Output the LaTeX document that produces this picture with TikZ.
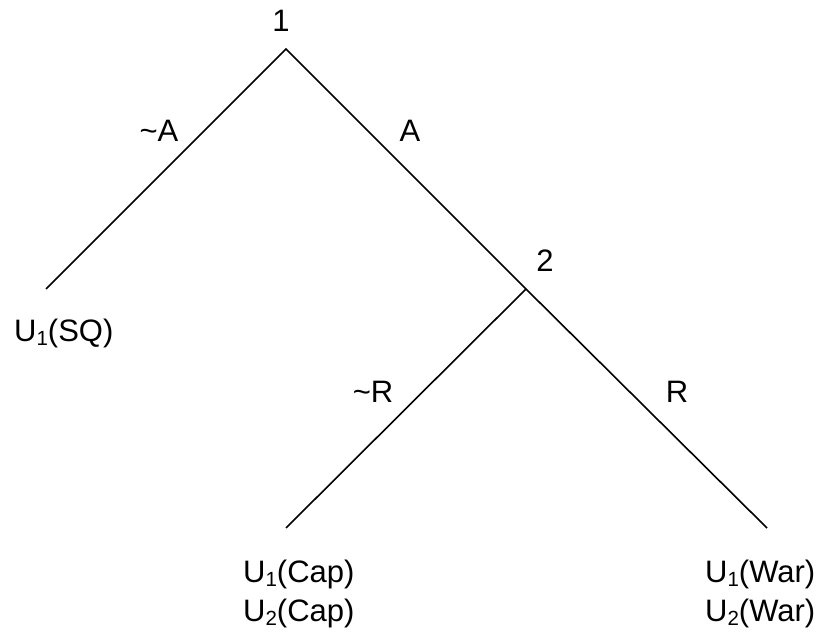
\documentclass[tikz,border=0pt]{standalone}
\usepackage{fontspec}
\setmainfont{Liberation Sans}
\newcommand\subidx[1]{\raisebox{-3.5pt}{\fontsize{20.5}{20.5}\selectfont #1}}
\begin{document}
\begin{tikzpicture}[x=1pt,y=1pt,
  edge/.style={line width=1.6pt},
  lbl/.style={inner sep=0pt,font=\fontsize{31}{37}\selectfont,anchor=base},
  leaf/.style={lbl,anchor=base west}]
\useasboundingbox (0,0) rectangle (825,637);
% tree points
\coordinate (n1) at (286,588);
\coordinate (n2) at (526,348);
\coordinate (lsq) at (46,348);
\coordinate (lcap) at (286,109);
\coordinate (lwar) at (767,109);
% edges
\draw[edge] (lsq) -- (n1) -- (n2) -- (lwar);
\draw[edge] (n2) -- (lcap);
% labels
\node[lbl] (t1) at (281,605) {1};
\node[lbl] (t2) at (545,365) {2};
\node[lbl] (tnA) at (159,495) {\textasciitilde A};
\node[lbl] (tA) at (410,495) {A};
\node[lbl] (tnR) at (373,234) {\textasciitilde R};
\node[lbl] (tR) at (677,234) {R};
\node[leaf] (usq) at (14,295) {U\subidx{1}(SQ)};
\node[leaf] (ucap1) at (243,54) {U\subidx{1}(Cap)};
\node[leaf] (ucap2) at (243,15) {U\subidx{2}(Cap)};
\node[leaf] (uwar1) at (705,54) {U\subidx{1}(War)};
\node[leaf] (uwar2) at (705,15) {U\subidx{2}(War)};
\end{tikzpicture}
\end{document}
